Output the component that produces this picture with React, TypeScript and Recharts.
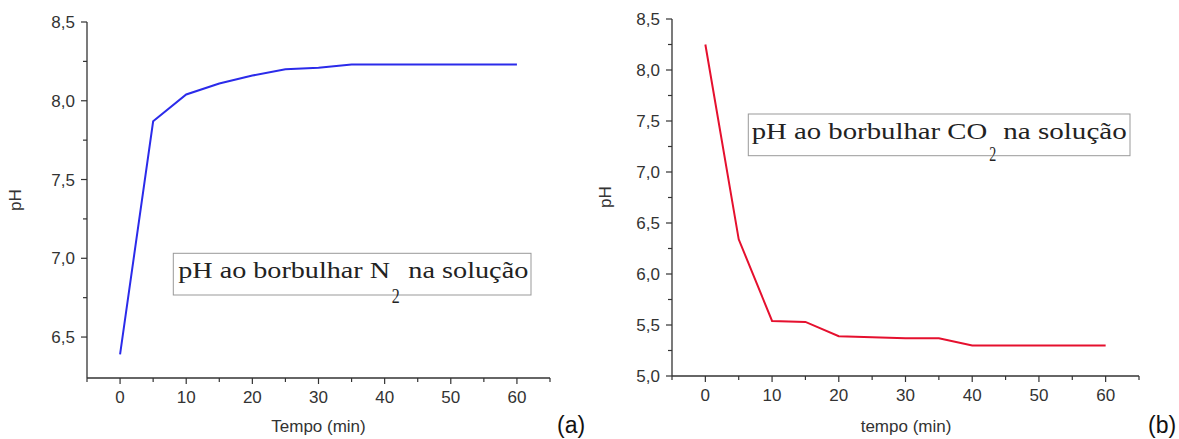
import { LineChart, Line, XAxis, YAxis } from "recharts";

// tempo (min)
const minutes = [0, 5, 10, 15, 20, 25, 30, 35, 40, 45, 50, 55, 60];
// pH while bubbling N2 (a)
const phN2 = [6.39, 7.87, 8.04, 8.11, 8.16, 8.2, 8.21, 8.23, 8.23, 8.23, 8.23, 8.23, 8.23];
// pH while bubbling CO2 (b)
const phCO2 = [8.25, 6.34, 5.54, 5.53, 5.39, 5.38, 5.37, 5.37, 5.3, 5.3, 5.3, 5.3, 5.3];

const xTicks = [-5, 0, 5, 10, 15, 20, 25, 30, 35, 40, 45, 50, 55, 60, 65];
const xLabels = [0, 10, 20, 30, 40, 50, 60];
const yTicksA = [6.5, 6.75, 7, 7.25, 7.5, 7.75, 8, 8.25, 8.5];
const yTicksB = [5, 5.25, 5.5, 5.75, 6, 6.25, 6.5, 6.75, 7, 7.25, 7.5, 7.75, 8, 8.25, 8.5];

const n2Data = minutes.map((t, i) => ({ t, ph: phN2[i] }));
const co2Data = minutes.map((t, i) => ({ t, ph: phCO2[i] }));

const AXIS = "#333";
const SANS = "Liberation Sans, Arial, sans-serif";
const SERIF = "Times New Roman, Liberation Serif, serif";

const fmt = (v: number) => v.toFixed(1).replace(".", ",");

const XTick = (props: any) => {
   const { x, y, payload } = props;
   const major = xLabels.includes(payload.value);
   return (
      <g>
         <line x1={x} y1={y} x2={x} y2={y + (major ? 6 : 4)} stroke={AXIS} strokeWidth={1.2} />
         {major && (
            <text x={x} y={y + 25} textAnchor="middle" fill="#333" fontSize={17} fontFamily={SANS}>
               {payload.value}
            </text>
         )}
      </g>
   );
};

const YTick = (props: any) => {
   const { x, y, payload } = props;
   const v = payload.value;
   const major = Math.abs(v * 2 - Math.round(v * 2)) < 1e-6;
   return (
      <g>
         <line x1={x - (major ? 6 : 4)} y1={y} x2={x} y2={y} stroke={AXIS} strokeWidth={1.2} />
         {major && (
            <text x={x - 12} y={y} dy="0.36em" textAnchor="end" fill="#333" fontSize={17} fontFamily={SANS}>
               {fmt(v)}
            </text>
         )}
      </g>
   );
};

type PanelProps = {
   data: { t: number; ph: number }[];
   yDomain: [number, number];
   yTicks: number[];
   color: string;
   left: number;
   width: number;
   top: number;
   yAxisWidth: number;
   xAxisHeight: number;
};

const Panel = (p: PanelProps) => {
   const axisLine = { stroke: AXIS, strokeWidth: 1.3 };
   return (
      <div style={{ position: "absolute", left: p.left, top: 0 }}>
         <LineChart
            width={p.width}
            height={439}
            data={p.data}
            margin={{ top: p.top, right: 40, bottom: 0, left: 0 }}
         >
            <XAxis
               dataKey="t"
               type="number"
               domain={[-5, 65]}
               ticks={xTicks}
               interval={0}
               allowDataOverflow
               height={p.xAxisHeight}
               tickSize={0}
               tickMargin={0}
               tickLine={false}
               axisLine={axisLine}
               tick={<XTick />}
            />
            <XAxis
               xAxisId="top"
               orientation="top"
               type="number"
               domain={[-5, 65]}
               height={0}
               tick={false}
               tickLine={false}
               axisLine={axisLine}
            />
            <YAxis
               type="number"
               domain={p.yDomain}
               ticks={p.yTicks}
               interval={0}
               allowDataOverflow
               width={p.yAxisWidth}
               tickSize={0}
               tickMargin={0}
               tickLine={false}
               axisLine={axisLine}
               tick={<YTick />}
            />
            <YAxis
               yAxisId="right"
               orientation="right"
               type="number"
               domain={p.yDomain}
               width={0}
               tick={false}
               tickLine={false}
               axisLine={axisLine}
            />
            <Line
               type="linear"
               dataKey="ph"
               stroke={p.color}
               strokeWidth={2}
               dot={false}
               isAnimationActive={false}
            />
         </LineChart>
      </div>
   );
};

export default function App() {
   return (
      <div
         style={{
            position: "absolute",
            left: 0,
            top: 0,
            width: 1179,
            height: 439,
            background: "#fff",
            overflow: "hidden",
         }}
      >
         <Panel
            data={n2Data}
            yDomain={[6.24, 8.5]}
            yTicks={yTicksA}
            color="#2b2bea"
            left={0}
            width={590}
            top={22}
            yAxisWidth={87}
            xAxisHeight={61}
         />
         <Panel
            data={co2Data}
            yDomain={[5, 8.5]}
            yTicks={yTicksB}
            color="#e5102e"
            left={590}
            width={589}
            top={19}
            yAxisWidth={82}
            xAxisHeight={63}
         />

         {/* titles, annotation boxes and panel letters */}
         <svg
            width={1179}
            height={439}
            style={{ position: "absolute", left: 0, top: 0, pointerEvents: "none" }}
         >
            <g fontFamily={SANS} fill="#333" fontSize={17}>
               <text x={21} y={200} textAnchor="middle" transform="rotate(-90 21 200)">pH</text>
               <text x={611} y={197} textAnchor="middle" transform="rotate(-90 611 197)">pH</text>
               <text x={318.5} y={432} textAnchor="middle">Tempo (min)</text>
               <text x={906} y={432} textAnchor="middle">tempo (min)</text>
            </g>
            <g fontFamily={SANS} fill="#111" fontSize={23}>
               <text x={557} y={433}>(a)</text>
               <text x={1148} y={433}>(b)</text>
            </g>

            <rect x={173.3} y={253.3} width={357.7} height={41.7} fill="#fff" stroke="#999" strokeWidth={1} />
            <g fontFamily={SERIF} fill="#222">
               <text x={178.3} y={277.7} fontSize={24} textLength={211.7} lengthAdjust="spacingAndGlyphs">
                  pH ao borbulhar N
               </text>
               <text x={391.7} y={303} fontSize={20} textLength={8} lengthAdjust="spacingAndGlyphs">2</text>
               <text x={408.3} y={277.7} fontSize={24} textLength={120} lengthAdjust="spacingAndGlyphs">
                  na solução
               </text>
            </g>

            <rect x={748.3} y={114} width={381.7} height={41.7} fill="#fff" stroke="#999" strokeWidth={1} />
            <g fontFamily={SERIF} fill="#222">
               <text x={751.7} y={139.3} fontSize={24} textLength={235.6} lengthAdjust="spacingAndGlyphs">
                  pH ao borbulhar CO
               </text>
               <text x={989.3} y={161} fontSize={20} textLength={7} lengthAdjust="spacingAndGlyphs">2</text>
               <text x={1003.3} y={139.3} fontSize={24} textLength={123.4} lengthAdjust="spacingAndGlyphs">
                  na solução
               </text>
            </g>
         </svg>
      </div>
   );
}
